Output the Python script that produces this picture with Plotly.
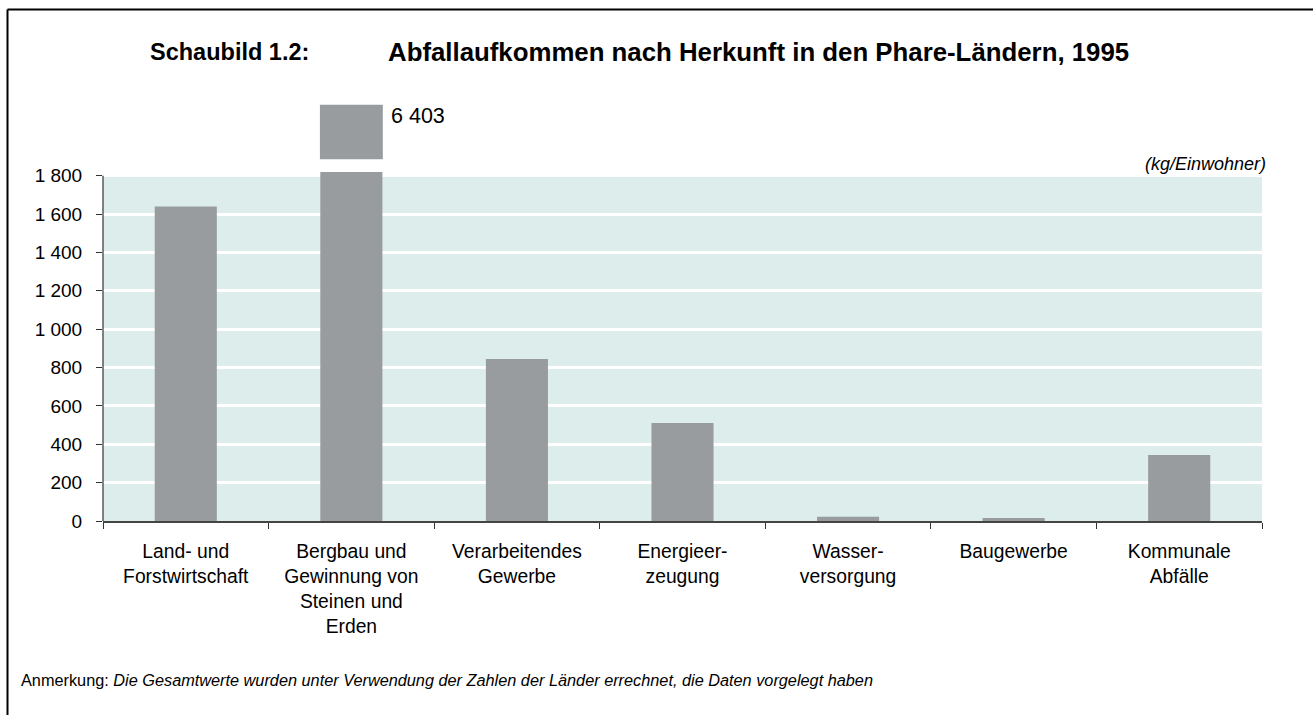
import plotly.graph_objects as go

# ---- data ----
categories = [
    "Land- und<br>Forstwirtschaft",
    "Bergbau und<br>Gewinnung von<br>Steinen und<br>Erden",
    "Verarbeitendes<br>Gewerbe",
    "Energieer-<br>zeugung",
    "Wasser-<br>versorgung",
    "Baugewerbe",
    "Kommunale<br>Abfälle",
]
values = [1640, 6403, 845, 511, 22, 16, 344]
tick_vals = [0, 200, 400, 600, 800, 1000, 1200, 1400, 1600, 1800]
tick_text = ["0", "200", "400", "600", "800", "1 000", "1 200", "1 400", "1 600", "1 800"]

# ---- axis-break settings (visual only) ----
AXIS_MAX = 1800
CLIP_AT = 1820          # bars taller than the axis are cut here
BREAK_LOW = 1886        # bottom of the "overflow" block
BREAK_HIGH = 2170       # top of the "overflow" block
Y_RANGE_TOP = 2200

BAR_COLOR = "#989c9e"
BG_COLOR = "#ddedeb"
FONT = "Liberation Sans, Arial, sans-serif"

W, H = 1313, 715
L, R, T, B = 103, 51, 99, 194
PW, PH = W - L - R, H - T - B


def xp(px):
    return (px - L) / PW


def yp(py):
    return (H - B - py) / PH


def fmt(v):
    return f"{v:,}".replace(",", " ")


shown = [min(v, CLIP_AT) for v in values]
over_cats = [c for c, v in zip(categories, values) if v > AXIS_MAX]
over_base = [BREAK_LOW for _ in over_cats]
over_h = [BREAK_HIGH - BREAK_LOW for _ in over_cats]

fig = go.Figure()
fig.add_trace(go.Bar(x=categories, y=shown, marker_color=BAR_COLOR,
                     marker_line_width=0, width=0.375, hoverinfo="skip"))
fig.add_trace(go.Bar(x=over_cats, y=over_h, base=over_base, marker_color=BAR_COLOR,
                     marker_line_width=0, width=0.38, hoverinfo="skip"))

annotations = [
    dict(text="<b>Schaubild 1.2:</b>", x=xp(148), y=yp(52), xref="paper", yref="paper",
         xanchor="left", yanchor="middle", showarrow=False,
         font=dict(size=23.5, family=FONT, color="black")),
    dict(text="<b>Abfallaufkommen nach Herkunft in den Phare-Ländern, 1995</b>",
         x=xp(386), y=yp(52), xref="paper", yref="paper",
         xanchor="left", yanchor="middle", showarrow=False,
         font=dict(size=25.8, family=FONT, color="black")),
    dict(text="<i>(kg/Einwohner)</i>", x=xp(1268), y=yp(164), xref="paper", yref="paper",
         xanchor="right", yanchor="middle", showarrow=False,
         font=dict(size=18, family=FONT, color="black")),
    dict(text="Anmerkung: <i>Die Gesamtwerte wurden unter Verwendung der Zahlen der Länder errechnet, die Daten vorgelegt haben</i>",
         x=xp(19), y=yp(680), xref="paper", yref="paper",
         xanchor="left", yanchor="middle", showarrow=False,
         font=dict(size=16.3, family=FONT, color="black")),
]

# labels for the clipped bars
for i, (c, v) in enumerate(zip(categories, values)):
    if v > AXIS_MAX:
        annotations.append(dict(x=i + 0.19, y=BREAK_HIGH - 60, xref="x", yref="y",
                                text=fmt(v), showarrow=False, xanchor="left", yanchor="middle",
                                xshift=6, font=dict(size=21.5, color="black", family=FONT)))

shapes = [
    # teal plot background only up to the axis maximum
    dict(type="rect", xref="paper", yref="y", x0=0, x1=1, y0=0, y1=AXIS_MAX,
         fillcolor=BG_COLOR, line_width=0, layer="below"),
    # y axis line
    dict(type="line", xref="paper", yref="y", x0=0, x1=0, y0=0, y1=AXIS_MAX,
         line=dict(color="#333333", width=1.2)),
    # outer frame (top + left)
    dict(type="line", xref="paper", yref="paper", x0=xp(7.5), x1=xp(1330), y0=yp(9.5), y1=yp(9.5),
         line=dict(color="black", width=2)),
    dict(type="line", xref="paper", yref="paper", x0=xp(7.5), x1=xp(7.5), y0=yp(9.5), y1=yp(730),
         line=dict(color="black", width=2)),
]

fig.update_layout(
    width=W, height=H,
    margin=dict(l=L, r=R, t=T, b=B, pad=0),
    paper_bgcolor="white", plot_bgcolor="white",
    showlegend=False, barmode="overlay",
    font=dict(family=FONT, color="black", size=16),
    shapes=shapes, annotations=annotations,
)
fig.update_xaxes(
    type="category", categoryorder="array", categoryarray=categories,
    range=[-0.5, len(categories) - 0.5],
    tickson="boundaries", ticks="outside", ticklen=6, tickcolor="#333333", tickwidth=1.2,
    showline=True, linecolor="#444444", linewidth=1.5, ticklabelstandoff=12,
    showgrid=False, tickfont=dict(size=19.3, family=FONT, color="black"),
)
fig.update_yaxes(
    range=[0, Y_RANGE_TOP], tickvals=tick_vals, ticktext=tick_text,
    ticks="outside", ticklen=6, tickcolor="#333333", tickwidth=1.2, ticklabelstandoff=10,
    showline=False, showgrid=True, gridcolor="white", gridwidth=2.5,
    zeroline=False, tickfont=dict(size=19, family=FONT, color="black"),
)

fig.write_html("out.html", config={"displayModeBar": False},
               post_script="document.body.style.margin='0';")
